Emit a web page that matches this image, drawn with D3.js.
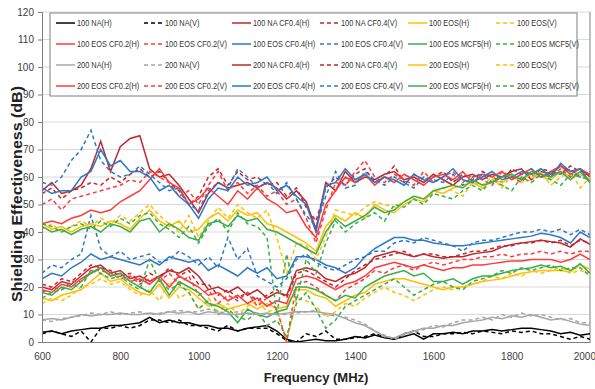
<!DOCTYPE html>
<html>
<head>
<meta charset="utf-8">
<script src="https://cdn.jsdelivr.net/npm/d3@7"></script>
<style>
  body { margin: 0; background: #fff; }
  svg { font-family: "Liberation Sans", Arial, sans-serif; }
  .grid line { stroke: #d9d9d9; stroke-width: 1; }
  .axis path, .axis line { stroke: #7f7f7f; }
  .axis text { fill: #404040; font-size: 10px; }
  .series { fill: none; stroke-width: 1.5; }
  .legend text { fill: #333; font-size: 9px; }
  .title { font-weight: bold; font-size: 13px; fill: #222; }
</style>
</head>
<body>
<svg width="595" height="389"></svg>
<script>
// Frequencies (MHz)
var freq = [600,625,650,675,700,725,750,775,800,825,850,875,900,925,950,975,1000,1025,1050,1075,1100,1125,1150,1175,1200,1225,1250,1275,1300,1325,1350,1375,1400,1425,1450,1475,1500,1525,1550,1575,1600,1625,1650,1675,1700,1725,1750,1775,1800,1825,1850,1875,1900,1925,1950,1975,2000];

var xTicks = [600, 800, 1000, 1200, 1400, 1600, 1800, 2000];
var yTicks = [0, 10, 20, 30, 40, 50, 60, 70, 80, 90, 100, 110, 120];

// 100 series
var na100H = [3.5,4,3,4,4.5,5,5,6,6,6.5,7,9,7,8,7,7,6,6,5,5,4,5,5.5,6,4,1,0,0.5,1,0.5,0.5,1,2,1.5,2.5,1.5,1,2,3,1,3,3,3.5,3,4,4,4.5,4,4.5,5,5,4.5,4,3,3.5,2.5,3];
var na100V = [3,4,3,2,4,0,5,5,6,5,6,8,8,7,8,6,6,5,4,6,4,5,5,5,3,0.5,0,3,2,4,1,1,1.5,2,3,2,1,3,4,2,2,3,3,3.5,3,4,3.5,3,4,3.5,4,3,3,2,1,2,1];
var naCf100H = [20,19,22,21,24,27,28,25,26,23,24,22,24,26,25,27,24,19,20,18,20,17,19,16,18,17,26,27,26,23,22,24,25,27,31,32,33,32,31,32,31,30.5,31,31,32,32.5,33,34.5,35.5,36,36.5,37,36.5,36,34.5,37.5,35.5];
var naCf100V = [21,20,23,22,25,28,27,26,24,25,22,25,23,27,24,26,21,21,17,19,16,18,15,17,19,16,25,26,24,22,20,23,26,28,30,31,32,33,31,32,32,31,31,32,33,33,34,35,35,36,36,37,36,37,35,37,36];
var eos100H = [16,15,17,18,19,22,25,22,23,20,18,17,21,16,20,19,16,13,14,12,13,14,12,14,12,13,19,19,17,16,13,15,17,18,21,22,23,23,22,21,20,19,20,20,21,22,22.5,23,24,25,25.5,26,26,26,25.5,28,26.5];
var eos100V = [14,16,15,17,20,21,23,21,22,19,17,19,15,22,16,18,12,16,11,14,10,13,15,11,12,0,16,15,13,9,11,14,13,16,18,20,18,17,15,17,19,20,19,20,21,22,24,23,25,24,26,25,26,27,25,26,25];
var cf02100H = [19,18,21,20,23,25,27,24,25,22,23,21,24,20,24,22,20,17,18,15,17,14,16,13,15,14,23,24,23,21,19,21,22,24,27,28,29,28,27,28,27,26,27,27,28,28,28.5,29,29.5,29.5,30,30,30,29,30,32,30];
var cf02100V = [18,20,19,22,22,26,26,25,23,24,21,23,22,25,21,24,17,19,14,17,15,18,13,16,12,0,21,22,20,17,15,19,21,23,26,25,27,28,26,28,29,28,29,30,30,31,31,32,31,32,32,33,32,33,32,33,33];
var cf04100H = [23,25,24,27,29,32,30,31,30,29,28,30,28,31,30,29,30,26,28,26,24,27,25,27,23,24,31,31,30,28,27,25,27,31,34,36,38,38,37,37,36,35.5,35,35,35.5,36,36.5,37,37.5,38,38.5,39.5,39,38,36,40,38];
var cf04100V = [25,28,27,30,32,46,34,31,33,30,31,32,29,30,33,31,28,31,27,38,30,34,24,22,20,23,30,32,29,27,26,28,30,31,33,33,36,37,36,38,37,36,35,33,36,37,37,38,39,40,40,41,40,41,39,41,39];
var mcf100H = [18,17,20,19,22,25,27,24,25,22,20,18,23,17,22,20,18,14,13,11,7,12,10,9,11,12,20,20,19,17,15,17,16,20,22,24,25,26,24,25,22,22,23,21,23,24,24,25,26,26.5,27,28,27,27.5,26,28.5,25];
var mcf100V = [16,18,19,21,20,26,25,23,24,21,19,30,22,19,21,18,12,15,10,12,9,8,11,6,8,2,14,18,12,5,8,13,15,17,19,21,23,20,17,19,21,22,20,19,22,23,24,26,25,27,26,27,28,26,27,27,24];

// 200 series
var na200H = [8,8.5,8,9,10,9.5,10,10,10.5,10,10,10.5,10,11,10.5,11,10,11,10.5,10,10,10.5,10,10.5,10,10.5,11,11,11,10.5,10,8.5,7,6,4,2,1.5,3,4,5,5,6,6,7,7.5,8,9,8.5,9.5,9,10,9,8,8.5,7.5,6.5,6];
var na200V = [8,7.5,8.5,9,9.5,10.5,10,11,10,10.5,11,10,10.5,11,11.5,11,11,12,11,10.5,11,10,10.5,10,10,10,10.5,11,11.5,10,9.5,9,8,6.5,4,2.5,1,2.5,3.5,4.5,6,5.5,7,8,8,9,8,10,9,10.5,9.5,10,9,8,8.5,7,7];
var naCf200H = [55,58,54,55,57,63,73,62,71,74,75,63,60,61,57,52,47,54,58,56,57,58,56,58,56,52,55,51,41,58,55,62,58,60,59,61,62,59,60,58,61,59,57,60,61,59,61,60,62,63,59,62,61,64,62,63,60];
var naCf200V = [54,56,52,55,56,58,57,60,58,61,63,60,62,58,55,50,53,60,63,57,62,59,60,57,58,53,56,49,44,56,60,57,61,63,58,60,64,58,61,59,60,62,58,61,59,62,60,58,63,61,60,63,62,61,64,62,61];
var eos200H = [43,41,42,40,42,43,42,44,43,41,45,48,44,42,44,40,41,45,47,44,48,46,47,43,42,40,38,36,33,42,46,44,47,45,50,48,47,50,52,51,55,54,56,57,58,56,59,58,60,59,61,60,59,62,60,61,59];
var eos200V = [41,43,40,42,44,42,45,43,46,44,47,50,46,43,40,46,38,44,49,45,50,47,45,48,38,25,36,35,30,38,48,47,46,49,51,50,49,51,53,52,54,56,55,53,58,57,60,56,61,58,59,62,57,60,62,56,60];
var cf02200H = [43,44,43,45,46,48,47,48,51,53,55,59,63,58,56,50,52,56,53,50,55,52,56,52,50,47,48,42,38,50,55,60,58,61,57,60,58,61,59,57,60,61,59,62,58,61,60,62,59,61,63,60,62,64,61,63,61];
var cf02200V = [50,52,48,52,53,54,55,56,57,59,58,62,60,58,53,55,50,57,62,55,58,54,57,53,55,50,52,45,36,48,58,57,62,66,60,58,61,59,57,62,58,60,62,58,61,59,57,62,60,58,62,61,60,63,60,62,61];
var cf04200H = [56,54,55,55,60,62,70,64,66,62,62,60,55,57,53,50,45,52,56,55,60,57,58,60,55,57,53,50,40,57,58,63,59,61,58,60,59,57,61,59,58,60,63,59,58,60,62,59,60,62,61,63,60,65,62,63,58];
var cf04200V = [58,57,60,66,70,77,66,62,60,61,64,61,58,55,56,50,48,55,58,56,63,60,56,58,54,58,52,46,42,53,62,56,57,62,59,57,60,58,56,60,59,58,61,57,60,61,58,60,61,59,63,60,62,61,63,60,62];
var mcf200H = [42,40,41,39,41,42,40,43,42,40,44,45,40,43,41,38,37,43,44,42,46,44,45,41,40,38,36,34,32,40,45,42,44,46,49,47,48,51,53,52,55,56,57,56,59,57,58,60,61,59,62,61,60,62,59,62,58];
var mcf200V = [43,42,40,42,43,41,44,42,45,43,46,47,43,41,38,42,36,42,45,40,47,43,42,38,10,32,15,30,25,36,44,40,43,45,47,44,50,49,52,50,54,53,52,55,57,55,59,57,55,60,58,61,59,57,61,60,59];

// Colours of the six material groups
var cBlack = '#000000', cGray = '#a6a6a6', cDark = '#c0282d', cRed = '#ff3b3b',
    cBlue = '#2f78c4', cYellow = '#ffc000', cGreen = '#3aae48';

var series = [
  {name: '100 NA(H)', v: na100H, color: cBlack, dash: false},
  {name: '100 NA(V)', v: na100V, color: cBlack, dash: true},
  {name: '100 NA CF0.4(H)', v: naCf100H, color: cDark, dash: false},
  {name: '100 NA CF0.4(V)', v: naCf100V, color: cDark, dash: true},
  {name: '100 EOS(H)', v: eos100H, color: cYellow, dash: false},
  {name: '100 EOS(V)', v: eos100V, color: cYellow, dash: true},
  {name: '100 EOS CF0.2(H)', v: cf02100H, color: cRed, dash: false},
  {name: '100 EOS CF0.2(V)', v: cf02100V, color: cRed, dash: true},
  {name: '100 EOS CF0.4(H)', v: cf04100H, color: cBlue, dash: false},
  {name: '100 EOS CF0.4(V)', v: cf04100V, color: cBlue, dash: true},
  {name: '100 EOS MCF5(H)', v: mcf100H, color: cGreen, dash: false},
  {name: '100 EOS MCF5(V)', v: mcf100V, color: cGreen, dash: true},
  {name: '200 NA(H)', v: na200H, color: cGray, dash: false},
  {name: '200 NA(V)', v: na200V, color: cGray, dash: true},
  {name: '200 NA CF0.4(H)', v: naCf200H, color: cDark, dash: false},
  {name: '200 NA CF0.4(V)', v: naCf200V, color: cDark, dash: true},
  {name: '200 EOS(H)', v: eos200H, color: cYellow, dash: false},
  {name: '200 EOS(V)', v: eos200V, color: cYellow, dash: true},
  {name: '200 EOS CF0.2(H)', v: cf02200H, color: cRed, dash: false},
  {name: '200 EOS CF0.2(V)', v: cf02200V, color: cRed, dash: true},
  {name: '200 EOS CF0.4(H)', v: cf04200H, color: cBlue, dash: false},
  {name: '200 EOS CF0.4(V)', v: cf04200V, color: cBlue, dash: true},
  {name: '200 EOS MCF5(H)', v: mcf200H, color: cGreen, dash: false},
  {name: '200 EOS MCF5(V)', v: mcf200V, color: cGreen, dash: true}
];

var svg = d3.select('svg');
var margin = {top: 12, right: 5, bottom: 47, left: 42};
var width = 595 - margin.left - margin.right;
var height = 389 - margin.top - margin.bottom;

var x = d3.scaleLinear().domain([600, 2000]).range([0, width]);
var y = d3.scaleLinear().domain([0, 120]).range([height, 0]);

var g = svg.append('g')
  .attr('transform', 'translate(' + margin.left + ',' + margin.top + ')');

// horizontal gridlines
g.append('g')
  .attr('class', 'grid')
  .selectAll('line')
  .data(yTicks.slice(1))
  .enter().append('line')
  .attr('x1', 0).attr('x2', width)
  .attr('y1', function(d) { return y(d); })
  .attr('y2', function(d) { return y(d); });

// right border of the plot
g.append('line')
  .attr('x1', width).attr('x2', width)
  .attr('y1', 0).attr('y2', height)
  .attr('stroke', '#7f7f7f');

svg.append('defs').append('clipPath')
  .attr('id', 'clip')
  .append('rect')
  .attr('x', 0).attr('y', -2)
  .attr('width', width).attr('height', height + 2);

var line = d3.line()
  .x(function(d, i) { return x(freq[i]); })
  .y(function(d) { return y(d); });

g.append('g')
  .attr('clip-path', 'url(#clip)')
  .selectAll('path')
  .data(series)
  .enter().append('path')
  .attr('class', 'series')
  .attr('d', function(s) { return line(s.v); })
  .attr('stroke', function(s) { return s.color; })
  .attr('stroke-dasharray', function(s) { return s.dash ? '4,3' : null; });

// axes
var xAxisG = g.append('g')
  .attr('class', 'axis')
  .attr('transform', 'translate(0,' + height + ')')
  .call(d3.axisBottom(x).tickValues(xTicks).tickSize(0).tickPadding(11).tickFormat(d3.format('d')));

// last label sits on the window edge, keep it inside
xAxisG.selectAll('.tick text')
  .filter(function(d) { return d === 2000; })
  .attr('text-anchor', 'end')
  .attr('dx', '0.55em');

g.append('g')
  .attr('class', 'axis')
  .call(d3.axisLeft(y).tickValues(yTicks).tickSize(4).tickPadding(4));

g.selectAll('.axis .domain').attr('stroke', '#7f7f7f');

// axis titles
svg.append('text')
  .attr('class', 'title')
  .attr('x', margin.left + width / 2)
  .attr('y', 382)
  .attr('text-anchor', 'middle')
  .text('Frequency (MHz)');

svg.append('text')
  .attr('class', 'title')
  .style('font-size', '15px')
  .attr('transform', 'translate(22,194) rotate(-90)')
  .attr('text-anchor', 'middle')
  .attr('textLength', 216)
  .attr('lengthAdjust', 'spacingAndGlyphs')
  .text('Shielding Effectiveness (dB)');

// legend: 6 columns x 4 rows
var legend = svg.append('g').attr('class', 'legend');
legend.append('rect')
  .attr('x', 50).attr('y', 13)
  .attr('width', 527).attr('height', 83)
  .attr('fill', '#fff')
  .attr('stroke', '#7f7f7f');

var item = legend.selectAll('g.item')
  .data(series)
  .enter().append('g')
  .attr('class', 'item')
  .attr('transform', function(s, i) {
    return 'translate(' + (56 + (i % 6) * 88) + ',' + (23 + Math.floor(i / 6) * 21) + ')';
  });

item.append('line')
  .attr('x1', 0).attr('x2', 19)
  .attr('stroke', function(s) { return s.color; })
  .attr('stroke-width', 1.5)
  .attr('stroke-dasharray', function(s) { return s.dash ? '4,3' : null; });

// narrow the text to match the condensed face of the original
item.append('text')
  .attr('transform', 'translate(21,0) scale(0.82,1)')
  .attr('dy', '0.35em')
  .text(function(s) { return s.name; });
</script>
</body>
</html>
